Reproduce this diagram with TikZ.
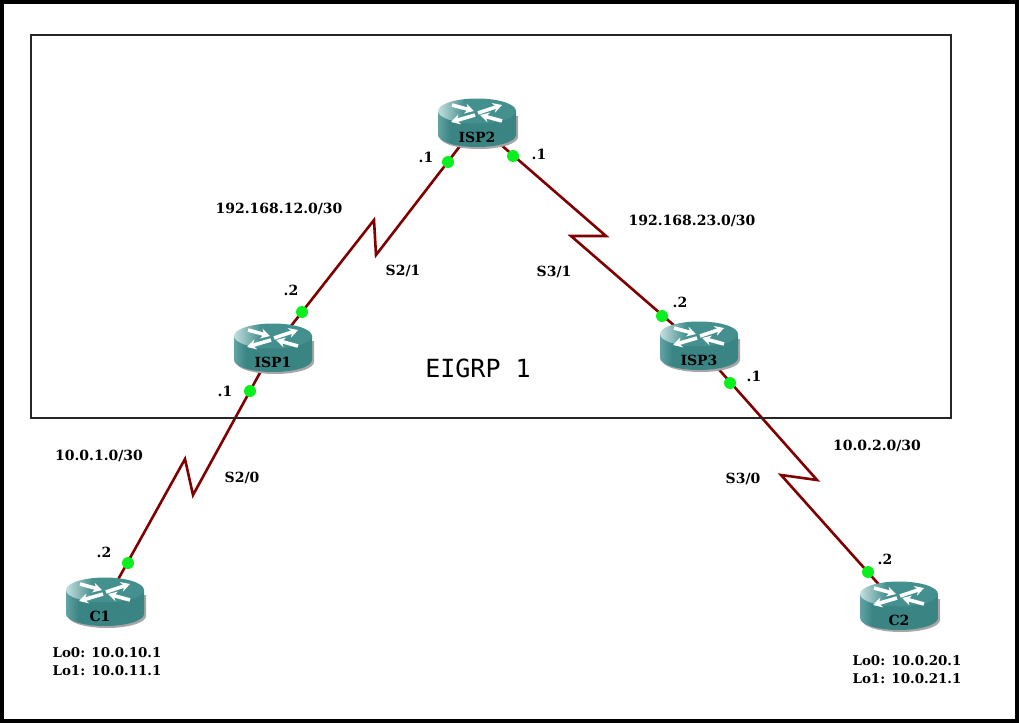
\documentclass[tikz,border=0pt]{standalone}
\usepackage{fontspec}
\setmainfont{DejaVu Serif}
\setmonofont{DejaVu Sans Mono}
\usetikzlibrary{backgrounds,arrows.meta}
\definecolor{routertop}{HTML}{43908F}
\definecolor{routerside}{HTML}{3A8484}
\definecolor{routerlight}{HTML}{C4DEDE}
\definecolor{routermid}{HTML}{62A3A3}
\definecolor{serialred}{HTML}{800000}
\definecolor{ifgreen}{HTML}{0AF01E}
\pgfdeclarehorizontalshading{routertopshade}{100bp}{color(0bp)=(routerlight); color(25bp)=(routerlight); color(42bp)=(routertop); color(100bp)=(routertop)}
\pgfdeclarehorizontalshading{routersideshade}{100bp}{color(0bp)=(routermid); color(25bp)=(routermid); color(33bp)=(routerside); color(100bp)=(routerside)}
\tikzset{
    routerbox/.style={minimum width=84pt, minimum height=58pt, inner sep=0pt,
        path picture={
            \fill[black!35] (-37,-8) -- (-37,13) arc[start angle=180, end angle=360, x radius=39pt, y radius=12pt] -- (41,-8) -- cycle;
            \shade[shading=routersideshade] (-39,-13) -- (-39,11) arc[start angle=180, end angle=360, x radius=39pt, y radius=12pt] -- (39,-13) -- cycle;
            \shade[shading=routertopshade] (0,-13) ellipse[x radius=39pt, y radius=12.5pt];
            \foreach \xa/\ya/\xb/\yb in {-25/-19/-3/-13, 1/-11/25/-19, -2/-9/-26/-2, 25/-3/3/-9}
                \draw[white, line width=3.6pt, -{Stealth[length=9pt, width=10pt]}] (\xa,\ya) -- (\xb,\yb);
        }},
    routername/.style={font=\fontsize{14}{16}\bfseries\selectfont, text=black, inner sep=0pt},
    iflabel/.style={font=\fontsize{14}{16}\bfseries\selectfont, inner sep=0pt},
    lolabel/.style={font=\fontsize{13.4}{16}\bfseries\selectfont, inner sep=0pt, align=left},
    ifdot/.style={circle, fill=ifgreen, draw=none, minimum size=12pt, inner sep=0pt},
    serial/.style={draw=serialred, line width=2.6pt, line join=miter},
}
\begin{document}
\begin{tikzpicture}[x=1pt, y=-1pt]
    \useasboundingbox (0,0) rectangle (1019,723);
    \draw[line width=4pt] (2,2) rectangle (1017,721);
    \node[draw=black!85, line width=2pt, minimum width=920pt, minimum height=383pt, inner sep=0pt] (eigrp) at (490.5,226.5) {};

    % routers
    \node[routerbox, label={[routername, yshift=-13pt]center:ISP2}] (isp2) at (477,124) {};
    \node[routerbox, label={[routername, yshift=-13pt]center:ISP1}] (isp1) at (273,349) {};
    \node[routerbox, label={[routername, yshift=-13pt]center:ISP3}] (isp3) at (699,347) {};
    \node[routerbox, label={[routername, xshift=-5pt, yshift=-13pt]center:C1}] (c1) at (105,603) {};
    \node[routerbox, label={[routername, yshift=-13pt]center:C2}] (c2) at (899,607) {};

    % serial links
    \coordinate (zig12a) at (374,220);
    \coordinate (zig12b) at (376,255);
    \coordinate (zig23a) at (606,236);
    \coordinate (zig23b) at (571,236);
    \coordinate (zig1a) at (193,495);
    \coordinate (zig1b) at (185,459);
    \coordinate (zig3a) at (817,480);
    \coordinate (zig3b) at (781,475);
    \begin{scope}[on background layer]
        \draw[serial] (isp1.center) -- (zig12a) -- (zig12b) -- (isp2.center);
        \draw[serial] (isp2.center) -- (zig23a) -- (zig23b) -- (isp3.center);
        \draw[serial] (isp1.center) -- (zig1a) -- (zig1b) -- (c1.center);
        \draw[serial] (isp3.center) -- (zig3a) -- (zig3b) -- (c2.center);
    \end{scope}

    % interface dots
    \node[ifdot] (dot2a) at (448,162) {};
    \node[ifdot] (dot2b) at (513,156) {};
    \node[ifdot] (dot1a) at (302,312) {};
    \node[ifdot] (dot1b) at (250,391) {};
    \node[ifdot] (dot3a) at (662,316) {};
    \node[ifdot] (dot3b) at (730,383) {};
    \node[ifdot] (dotc1) at (128,563) {};
    \node[ifdot] (dotc2) at (868,572) {};

    % labels
    \node[iflabel] (ip2a) at (426,157) {.1};
    \node[iflabel] (ip2b) at (539,154) {.1};
    \node[iflabel] (ip1a) at (291,290) {.2};
    \node[iflabel] (ip1b) at (225,391) {.1};
    \node[iflabel] (ip3a) at (680,302) {.2};
    \node[iflabel] (ip3b) at (754,376) {.1};
    \node[iflabel] (ipc1) at (104,552) {.2};
    \node[iflabel] (ipc2) at (885,559) {.2};
    \node[iflabel] (net12) at (279,209) {192.168.12.0/30};
    \node[iflabel] (net23) at (692,221) {192.168.23.0/30};
    \node[iflabel] (net1) at (99,456) {10.0.1.0/30};
    \node[iflabel] (net2) at (877,446) {10.0.2.0/30};
    \node[iflabel] (s21) at (403,271) {S2/1};
    \node[iflabel] (s31) at (554,272) {S3/1};
    \node[iflabel] (s20) at (242,478) {S2/0};
    \node[iflabel] (s30) at (743,479) {S3/0};
    \node[lolabel] (loc1) at (107,662) {Lo0: 10.0.10.1\\[2pt]Lo1: 10.0.11.1};
    \node[lolabel] (loc2) at (907,670) {Lo0: 10.0.20.1\\[2pt]Lo1: 10.0.21.1};
    \node[font=\ttfamily\fontsize{25}{30}\selectfont, inner sep=0pt] (area) at (478,368) {EIGRP 1};
\end{tikzpicture}
\end{document}
